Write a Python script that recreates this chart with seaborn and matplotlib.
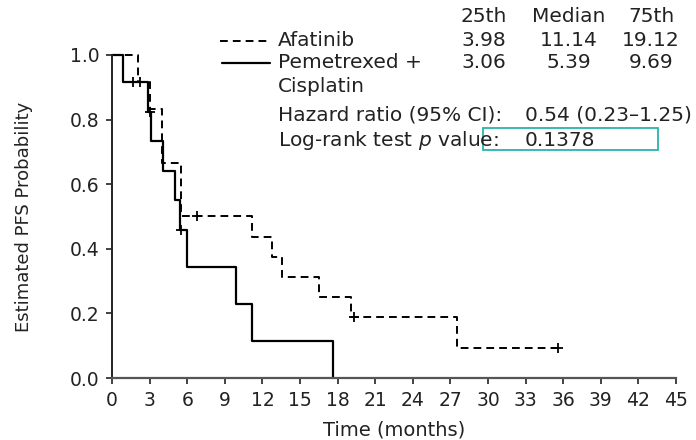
import matplotlib
matplotlib.use("Agg")
import matplotlib.pyplot as plt
from matplotlib.lines import Line2D
from matplotlib.patches import Rectangle
import seaborn as sns
import pandas as pd

# ---- data ----
afatinib_time = [0, 2.1, 3.0, 4.0, 5.5, 11.2, 12.8, 13.6, 16.5, 19.1, 27.5, 35.6]
afatinib_surv = [1.0, 0.917, 0.833, 0.667, 0.5, 0.4375, 0.375, 0.3125, 0.25, 0.1875, 0.094, 0.094]
afatinib_cens_time = [2.2, 6.8, 19.3, 35.6]
afatinib_cens_surv = [0.917, 0.5, 0.1875, 0.094]

pem_time = [0, 0.9, 2.9, 3.1, 4.1, 5.0, 5.4, 6.0, 9.9, 11.2, 17.6]
pem_surv = [1.0, 0.917, 0.825, 0.733, 0.642, 0.55, 0.458, 0.344, 0.229, 0.115, 0.0]
pem_cens_time = [1.7, 3.0, 5.5]
pem_cens_surv = [0.917, 0.825, 0.458]

x_ticks = list(range(0, 46, 3))
y_ticks = [0.0, 0.2, 0.4, 0.6, 0.8, 1.0]

col_headers = ["25th", "Median", "75th"]
afatinib_q = ["3.98", "11.14", "19.12"]
pem_q = ["3.06", "5.39", "9.69"]
hazard_text = "0.54 (0.23\u20131.25)"
pvalue_text = "0.1378"

# ---- style ----
sns.set_style("ticks")
plt.rcParams["font.family"] = ["DejaVu Sans"]

W, H = 696, 440
fig = plt.figure(figsize=(W / 100, H / 100), dpi=100)
ax = fig.add_axes([112 / W, 1 - 378 / H, 564 / W, 323 / H])

def px(x, y):
    return (x / W, 1 - y / H)

df_a = pd.DataFrame({"t": afatinib_time, "s": afatinib_surv})
df_p = pd.DataFrame({"t": pem_time, "s": pem_surv})

sns.lineplot(data=df_a, x="t", y="s", ax=ax, color="black", linewidth=1.4,
             drawstyle="steps-post", linestyle=(0, (4, 2.6)), errorbar=None,
             sort=False, clip_on=False)
sns.lineplot(data=df_p, x="t", y="s", ax=ax, color="black", linewidth=1.6,
             drawstyle="steps-post", errorbar=None, sort=False, clip_on=False)

sns.scatterplot(x=afatinib_cens_time, y=afatinib_cens_surv, ax=ax, marker="+",
                color="black", s=60, linewidth=1.3, clip_on=False, zorder=5)
sns.scatterplot(x=pem_cens_time, y=pem_cens_surv, ax=ax, marker="+",
                color="black", s=60, linewidth=1.3, clip_on=False, zorder=5)

ax.set_xlim(0, 45)
ax.set_ylim(0, 1.0)
ax.set_xticks(x_ticks)
ax.set_xticklabels([str(v) for v in x_ticks])
ax.set_yticks(y_ticks)
ax.set_yticklabels([f"{v:.1f}" for v in y_ticks])
ax.tick_params(axis="both", direction="out", length=4, width=1.2, labelsize=13.5,
               colors="#222222", pad=5)
for side in ["top", "right"]:
    ax.spines[side].set_visible(False)
ax.spines["left"].set_linewidth(1.4)
ax.spines["left"].set_color("#222222")
ax.spines["bottom"].set_linewidth(1.6)
ax.spines["bottom"].set_color("#555555")

ax.set_xlabel("Time (months)", fontsize=14, color="#222222")
ax.set_ylabel("Estimated PFS Probability", fontsize=13, color="#222222")
ax.xaxis.set_label_coords(0.5, (378 - 420) / 323)
ax.yaxis.set_label_coords((33 - 112) / 564, 0.5)

# ---- annotation block ----
fs = 14.5
tc = "#222222"
col_x = [484, 569, 651]
for cx, h in zip(col_x, col_headers):
    fig.text(*px(cx, 17), h, ha="center", va="center", fontsize=fs, color=tc)
for cx, v in zip(col_x, afatinib_q):
    fig.text(*px(cx, 41), v, ha="center", va="center", fontsize=fs, color=tc)
for cx, v in zip(col_x, pem_q):
    fig.text(*px(cx, 63), v, ha="center", va="center", fontsize=fs, color=tc)

fig.add_artist(Line2D([220 / W, 270 / W], [1 - 41 / H, 1 - 41 / H], color="black",
                      linewidth=1.4, linestyle=(0, (4, 2.6))))
fig.add_artist(Line2D([222 / W, 270 / W], [1 - 63 / H, 1 - 63 / H], color="black",
                      linewidth=1.6))
fig.text(*px(278, 41), "Afatinib", ha="left", va="center", fontsize=fs, color=tc)
fig.text(*px(278, 63), "Pemetrexed +", ha="left", va="center", fontsize=fs, color=tc)
fig.text(*px(278, 86), "Cisplatin", ha="left", va="center", fontsize=fs, color=tc)
fig.text(*px(278, 115), "Hazard ratio (95% CI):", ha="left", va="center", fontsize=fs, color=tc)
fig.text(*px(525, 115), hazard_text, ha="left", va="center", fontsize=fs, color=tc)
fig.text(*px(278, 140), r"Log-rank test $\mathit{p}$ value:", ha="left", va="center",
         fontsize=fs, color=tc)
fig.text(*px(525, 140), pvalue_text, ha="left", va="center", fontsize=fs, color=tc)

fig.add_artist(Rectangle(px(483, 150), (658 - 483) / W, 22 / H, fill=False,
                         edgecolor="#2ab3ad", linewidth=1.3))

fig.savefig("out.png", dpi=100)
